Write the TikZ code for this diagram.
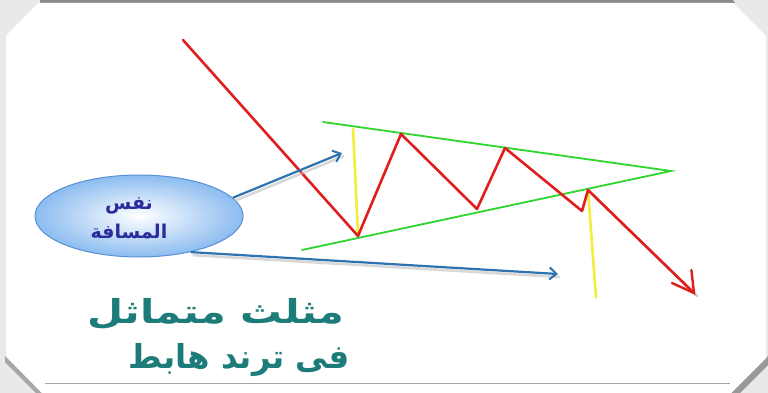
\documentclass[tikz,border=0pt]{standalone}
\usepackage{fontspec}
\newfontfamily\arabicfont[Script=Arabic]{DejaVu Sans}
\TeXXeTstate=1
\usetikzlibrary{shapes.geometric,arrows.meta,calc}
\definecolor{bggrey}{HTML}{E8EAE9}
\definecolor{edgegrey}{HTML}{8C8C8C}
\definecolor{trendred}{HTML}{E01E1E}
\definecolor{wedgegreen}{HTML}{2ED62E}
\definecolor{measureyellow}{HTML}{F2EE3A}
\definecolor{pointerblue}{HTML}{2E72B0}
\definecolor{ellblue}{HTML}{8CBCF0}
\definecolor{ellborder}{HTML}{5A92D6}
\definecolor{labelblue}{HTML}{2B2B9C}
\definecolor{titleteal}{HTML}{1D7C7A}
\tikzset{
  trend/.style={draw=trendred, line width=2.6pt, line join=round, line cap=round},
  wedge/.style={draw=wedgegreen, line width=1.8pt, line cap=round},
  measure/.style={draw=measureyellow, line width=2.6pt},
  pointer/.style={draw=pointerblue, line width=2.2pt, -{Straight Barb[length=7pt,width=12pt,line width=2pt]}},
  pointershadow/.style={draw=black!25, line width=2.6pt, opacity=0.6},
  bubble/.style={ellipse, draw=ellborder, line width=1pt, minimum width=208pt, minimum height=82pt,
    inner color=white, outer color=ellblue},
  bubbletext/.style={font=\arabicfont\bfseries\fontsize{19}{25}\selectfont, text=labelblue, align=center},
  title/.style={font=\arabicfont\bfseries\fontsize{33}{40}\selectfont, text=titleteal, anchor=east}
}
\begin{document}
\begin{tikzpicture}[x=1pt,y=-1pt]
\useasboundingbox (0,0) rectangle (768,393);
% frame
\fill[bggrey] (0,0) rectangle (768,393);
\fill[edgegrey] (40,0) -- (733,0) -- (735,3) -- (40,3) -- cycle;
\fill[black!35] (5,356) -- (42,393) -- (36,393) -- (5,362) -- cycle;
\fill[black!40] (768,356) -- (731,393) -- (740,393) -- (768,365) -- cycle;
\fill[white] (38,3) -- (733,3) -- (766,36) -- (766,358) -- (731,393) -- (42,393) -- (6,356) -- (6,36) -- cycle;
\draw[black!35, line width=0.8pt] (45,383) -- (730,383);

% wedge
\coordinate (gu) at (323,122);
\coordinate (gl) at (302,250);
\coordinate (apex) at (671,171);
\draw[wedge] (gu) -- (apex) -- (gl);

% yellow measures
\coordinate (y1t) at (353,128);
\coordinate (y1b) at (358,236);
\coordinate (y2t) at (588,190);
\coordinate (y2b) at (596,298);
\draw[measure] (y1t) -- (y1b);
\draw[measure] (y2t) -- (y2b);

% red trend
\coordinate (r0) at (183,40);
\coordinate (r1) at (358,236);
\coordinate (r2) at (401,134);
\coordinate (r3) at (477,209);
\coordinate (r4) at (505,148);
\coordinate (r5) at (582,211);
\coordinate (r6) at (588,190);
\coordinate (r7) at (694,293);
\draw[black!20, line width=2.6pt, line cap=round] ($(r6)+(3,3)$) -- ($(r7)+(3,3)$);
\draw[trend] (r0) -- (r1) -- (r2) -- (r3) -- (r4) -- (r5) -- (r6) -- (r7);
\draw[draw=trendred, line width=2.4pt, line cap=round] ($(r7)+(-2.6,-23)$) -- (r7) -- ($(r7)+(-22,-10)$);

% bubble
\node[bubble] (ell) at (139,216) {};
\node[bubbletext] (lbl) at (129,218) {\beginR نفس\endR\\[4pt]\beginR المسافة\endR};

% pointers
\coordinate (p1) at (342,153);
\coordinate (p2) at (558,274);
\draw[pointershadow] ($(ell.-35)+(2,3)$) -- ($(p2)+(2,3)$);
\draw[pointershadow] ($(ell.11)+(2,3)$) -- ($(p1)+(2,3)$);
\draw[pointer] (ell.11) -- (p1);
\draw[pointer] (ell.-35) -- (p2);

% titles
\node[title, xscale=1.26] (t1) at (349,314) {\beginR مثلث متماثل\endR};
\node[title, xscale=0.98] (t2) at (353,360) {\beginR فى ترند هابط\endR};
\end{tikzpicture}
\end{document}
